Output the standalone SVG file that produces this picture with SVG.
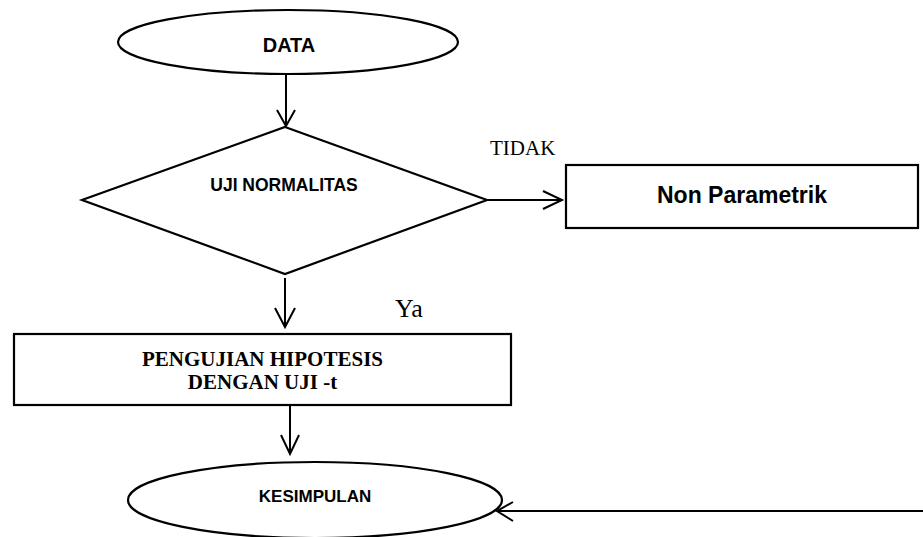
<svg xmlns="http://www.w3.org/2000/svg" width="923" height="537" viewBox="0 0 923 537">
<style>
  .shape { fill: #fff; stroke: #000; stroke-width: 2.2; }
  .sans { font-family: "Liberation Sans", Arial, sans-serif; font-weight: bold; fill: #000; text-anchor: middle; }
  .serif { font-family: "Liberation Serif", "Times New Roman", serif; fill: #000; }
  .conn line, .conn polyline { fill: none; stroke: #000; stroke-width: 2; }
</style>
<rect width="923" height="537" fill="#fff"/>
<g id="data">
  <ellipse class="shape" cx="288" cy="42" rx="170" ry="32"/>
  <text class="sans" x="289" y="52" font-size="20">DATA</text>
</g>
<g id="uji-normalitas">
  <polygon class="shape" points="285,127 487,200 285,274 82,200"/>
  <text class="sans" x="284" y="191" font-size="17.5">UJI NORMALITAS</text>
</g>
<g id="non-parametrik">
  <rect class="shape" x="566" y="165" width="352" height="63"/>
  <text class="sans" x="742" y="203" font-size="23">Non Parametrik</text>
</g>
<g id="pengujian">
  <rect class="shape" x="14" y="334" width="497" height="71"/>
  <text class="serif" x="262.5" y="366" font-size="21" font-weight="bold" text-anchor="middle">PENGUJIAN HIPOTESIS</text>
  <text class="serif" x="262.5" y="389" font-size="21" font-weight="bold" text-anchor="middle">DENGAN UJI -t</text>
</g>
<g id="kesimpulan">
  <ellipse class="shape" cx="315" cy="500" rx="187" ry="38"/>
  <text class="sans" x="315" y="502" font-size="17">KESIMPULAN</text>
</g>
<g id="labels">
  <text class="serif" x="490" y="155" font-size="21">TIDAK</text>
  <text class="serif" x="395" y="317" font-size="26">Ya</text>
</g>
<g class="conn" id="connectors">
  <line x1="286" y1="74" x2="286" y2="125"/>
  <polyline points="277,110 286,126 295,110"/>
  <line x1="487" y1="200" x2="561" y2="200"/>
  <polyline points="543,191 562,200 543,209"/>
  <line x1="285" y1="278" x2="285" y2="326"/>
  <polyline points="275,308 285,327 295,308"/>
  <line x1="290" y1="405" x2="290" y2="452"/>
  <polyline points="281,435 290,454 299,435"/>
  <line x1="923" y1="511" x2="498" y2="511"/>
  <polyline points="513,502 497,511 513,521"/>
</g>
</svg>
